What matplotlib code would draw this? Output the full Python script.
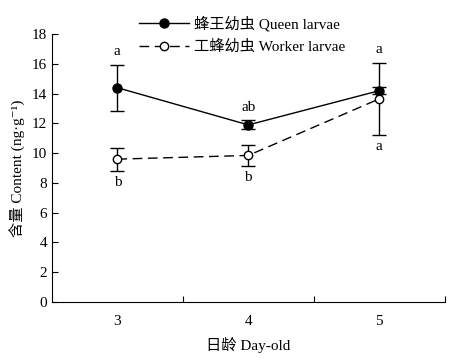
import numpy as np
import matplotlib
matplotlib.use('Agg')
from matplotlib import pyplot as plt
from matplotlib.lines import Line2D

plt.rcParams['font.family'] = ['Liberation Serif', 'Noto Sans CJK SC', 'DejaVu Serif']

days = [3, 4, 5]
queen = [14.4, 11.9, 14.2]
queen_err = [1.55, 0.3, 0.25]
worker = [9.6, 9.85, 13.65]
worker_err = [0.78, 0.7, 2.4]
queen_sig = ['a', 'ab', 'a']
worker_sig = ['b', 'b', 'a']

fig = plt.figure(figsize=(4.59, 3.63), dpi=100)
ax = fig.add_axes([0.113, 0.168, 0.856, 0.738])

ax.errorbar(days, queen, yerr=queen_err, color='black', marker='o', ms=6.5,
            lw=1, capsize=5, capthick=1, elinewidth=1)
ax.errorbar(days, worker, yerr=worker_err, color='black', marker='o', ms=6,
            mfc='white', lw=1, dashes=(7, 4), capsize=5, capthick=1, elinewidth=1)

# significance letters
for i, x in enumerate(days):
    top = max(queen[i] + queen_err[i], worker[i] + worker_err[i])
    ax.text(x, top + 0.45, queen_sig[i], ha='center', va='bottom', fontsize=11)
    ax.text(x, worker[i] - worker_err[i] - 0.35, worker_sig[i], ha='center', va='top', fontsize=11)

ax.set_xlim(2.5, 5.5)
ax.set_ylim(0, 18)
ax.set_yticks(np.arange(0, 19, 2))
ax.set_xticks([3.5, 4.5, 5.5])
ax.set_xticklabels([])
ax.set_xticks(days, minor=True)
ax.set_xticklabels([str(d) for d in days], minor=True)
ax.tick_params(axis='x', which='minor', length=0, pad=9)
ax.tick_params(axis='both', which='major', direction='in', length=4, labelsize=11)
ax.tick_params(axis='x', which='minor', labelsize=11)
ax.spines['top'].set_visible(False)
ax.spines['right'].set_visible(False)

ax.set_xlabel('日龄 Day-old', fontsize=11, labelpad=7)
ax.set_ylabel('含量 Content (ng·g⁻¹)', fontsize=11, labelpad=4)

handles = [Line2D([], [], color='black', lw=1, marker='o', ms=6.5),
           Line2D([], [], color='black', lw=1, dashes=(7, 4), marker='o', ms=6, mfc='white')]
labels = ['蜂王幼虫 Queen larvae', '工蜂幼虫 Worker larvae']
leg = ax.legend(handles, labels, loc='upper left', bbox_to_anchor=(0.205, 1.09), frameon=False,
                fontsize=11, handlelength=3.3, handletextpad=0.3, labelspacing=0.5,
                borderaxespad=0)

fig.savefig('out.png', dpi=100)
